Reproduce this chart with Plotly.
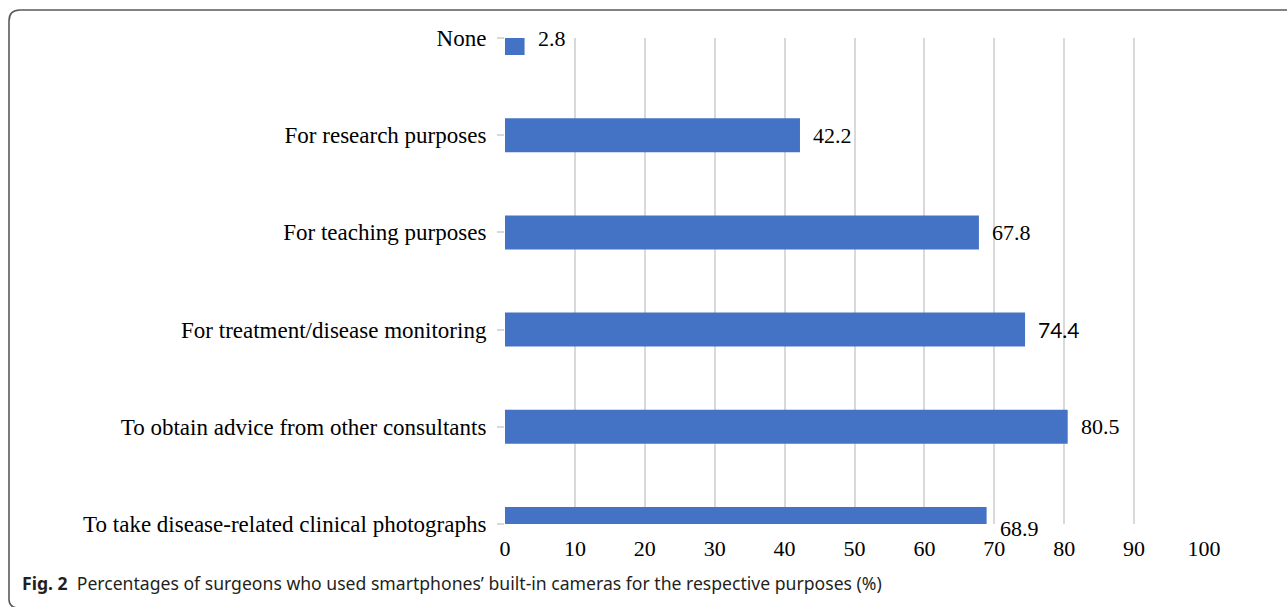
import plotly.graph_objects as go

# Survey purposes (bottom to top) and the share of surgeons for each (%)
purposes = [
    "To take disease-related clinical photographs",
    "To obtain advice from other consultants",
    "For treatment/disease monitoring",
    "For teaching purposes",
    "For research purposes",
    "None",
]
percent = [68.9, 80.5, 74.4, 67.8, 42.2, 2.8]
label_fonts = ["Liberation Serif", "Liberation Serif", "Lato",
               "Liberation Serif", "Liberation Serif", "Liberation Serif"]
x_ticks = [0, 10, 20, 30, 40, 50, 60, 70, 80, 90, 100]

W, H = 1287, 607
L, R, T, B = 505, 1204, 38, 524  # plot area in pixels

fig = go.Figure()
fig.add_trace(go.Bar(
    x=percent, y=purposes, orientation="h",
    marker=dict(color="#4472C4", line=dict(width=0)),
    width=0.35, hoverinfo="x+y",
))

# value labels just beyond the end of each bar
for p, v, f in zip(purposes, percent, label_fonts):
    fig.add_annotation(
        x=v, y=p, xref="x", yref="y", text=f"{v:.1f}",
        showarrow=False, xanchor="left", yanchor="middle",
        xshift=11, yshift=0 if p != purposes[0] else -4,
        font=dict(family=f, size=22 if f != "Lato" else 21, color="#000000"),
    )

# rounded frame around the figure (open on the right side)
def px(xp):
    return (xp - L) / (R - L)

def py(yp):
    return (B - yp) / (B - T)

r = 11
frame = (f"M {px(W + 5)},{py(10)} L {px(9 + r)},{py(10)} "
         f"Q {px(9)},{py(10)} {px(9)},{py(10 + r)} "
         f"L {px(9)},{py(H - 8)} Q {px(9)},{py(H)} {px(17)},{py(H + 1)}")
fig.add_shape(type="path", path=frame, xref="paper", yref="paper",
              line=dict(color="#5a5a5a", width=1.6), layer="above")

# figure caption
fig.add_annotation(
    x=px(20), y=py(583), xref="paper", yref="paper",
    text="<b>Fig. 2</b>  Percentages of surgeons who used smartphones\u2019 built-in cameras for the respective purposes (%)",
    showarrow=False, xanchor="left", yanchor="middle",
    font=dict(family="Noto Sans", size=17.6, color="#231f20"),
)

fig.update_layout(
    width=W, height=H,
    margin=dict(l=L, r=W - R, t=T, b=H - B, pad=0),
    paper_bgcolor="white", plot_bgcolor="white",
    showlegend=False, bargap=0.65,
    font=dict(family="Liberation Serif", size=22, color="#000000"),
)
fig.update_xaxes(
    range=[0, 100], tickvals=x_ticks, ticktext=[str(t) for t in x_ticks],
    showgrid=True, gridcolor="#d9d9d9", gridwidth=1.5,
    zeroline=False, showline=False, ticks="", ticklabelstandoff=9,
    tickfont=dict(family="Liberation Serif", size=22),
)
fig.update_yaxes(
    type="category", categoryorder="array", categoryarray=purposes,
    range=[0, 5], showgrid=False, zeroline=False, showline=False,
    ticks="outside", ticklen=7, tickcolor="#d9d9d9", tickwidth=1.5,
    ticklabelstandoff=6,
    tickfont=dict(family="Liberation Serif", size=23),
)

fig.write_html("out.html")
